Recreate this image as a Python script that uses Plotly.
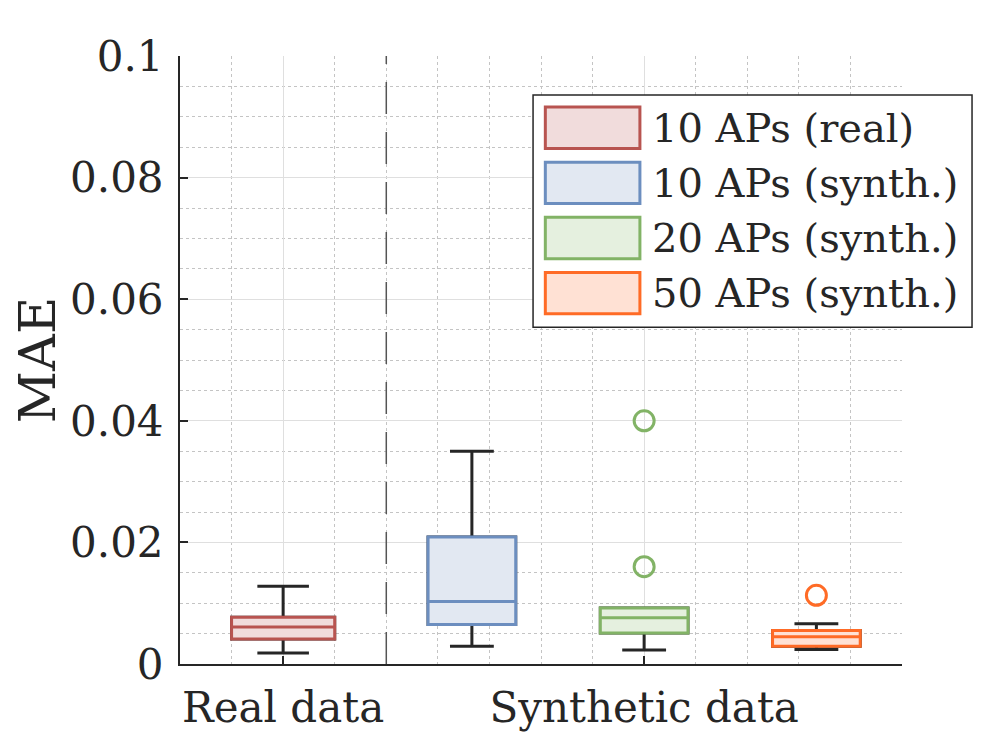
import plotly.graph_objects as go

# ---- data ----
names = ["10 APs (real)", "10 APs (synth.)", "20 APs (synth.)", "50 APs (synth.)"]
positions = [1.0, 2.83, 4.5, 6.17]
box_widths = [1.0, 0.85, 0.85, 0.85]
lower_fence = [0.0018, 0.0029, 0.0023, 0.0024]
q1 = [0.0041, 0.0065, 0.0051, 0.0029]
median = [0.0061, 0.0103, 0.0076, 0.0045]
q3 = [0.0077, 0.0209, 0.0092, 0.0055]
upper_fence = [0.0128, 0.0350, 0.0092, 0.0066]
outlier_group = [2, 2, 3]
outlier_values = [0.0400, 0.0160, 0.0113]

edge_colors = ["#B85450", "#6C8EBF", "#82B366", "#FF6B26"]
fill_colors = ["#F1DCDC", "#E2E8F2", "#E5F0DF", "#FFE1D4"]
whisker_color = "#262626"

xtick_vals = [1.0, 4.5]
xtick_text = ["Real data", "Synthetic data"]
separator_x = 2.0
x_range = [0, 7]
y_range = [0, 0.1]

FONT = "DejaVu Serif"
TXT = "#262626"

fig = go.Figure()

# black whiskers (box underneath, covered by the coloured box)
for i in range(len(names)):
    fig.add_trace(go.Box(
        x=[positions[i]], q1=[q1[i]], median=[median[i]], q3=[q3[i]],
        lowerfence=[lower_fence[i]], upperfence=[upper_fence[i]],
        width=box_widths[i], whiskerwidth=0.5,
        line=dict(color=whisker_color, width=3), fillcolor="rgba(0,0,0,0)",
        showlegend=False, hoverinfo="skip", boxpoints=False,
    ))

# coloured boxes
for i in range(len(names)):
    fig.add_trace(go.Box(
        x=[positions[i]], q1=[q1[i]], median=[median[i]], q3=[q3[i]],
        lowerfence=[q1[i]], upperfence=[q3[i]],
        width=box_widths[i], whiskerwidth=0,
        line=dict(color=edge_colors[i], width=3), fillcolor=fill_colors[i],
        name=names[i], showlegend=False, boxpoints=False,
    ))

# outliers
for g, v in zip(outlier_group, outlier_values):
    fig.add_trace(go.Scatter(
        x=[positions[g]], y=[v], mode="markers",
        marker=dict(symbol="circle-open", size=20, color=edge_colors[g],
                    line=dict(width=3, color=edge_colors[g])),
        showlegend=False, hoverinfo="skip",
    ))

# dashed separator
fig.add_trace(go.Scatter(
    x=[separator_x, separator_x], y=y_range, mode="lines",
    line=dict(color="#555555", width=1.5, dash="32px,18px"),
    showlegend=False, hoverinfo="skip",
))

# ---- legend (MATLAB-style, large swatches), in paper coordinates ----
LEG_X0, LEG_X1, LEG_Y0, LEG_Y1 = 0.489, 1.097, 0.554, 0.936
SW_X0, SW_X1 = 0.506, 0.637
TXT_X = 0.651
ROW_TOP = 0.882      # centre of first row
ROW_STEP = 0.0907    # row spacing
SW_H = 0.068         # swatch height

fig.add_shape(type="rect", xref="paper", yref="paper",
              x0=LEG_X0, x1=LEG_X1, y0=LEG_Y0, y1=LEG_Y1,
              fillcolor="white", line=dict(color="#262626", width=1.5), layer="above")
for i, nm in enumerate(names):
    yc = ROW_TOP - i * ROW_STEP
    fig.add_shape(type="rect", xref="paper", yref="paper",
                  x0=SW_X0, x1=SW_X1, y0=yc - SW_H / 2, y1=yc + SW_H / 2,
                  fillcolor=fill_colors[i], line=dict(color=edge_colors[i], width=3),
                  layer="above")
    fig.add_annotation(text=nm, xref="paper", yref="paper", x=TXT_X, y=yc,
                       xanchor="left", yanchor="middle", showarrow=False,
                       font=dict(family=FONT, size=40, color=TXT))

fig.update_layout(
    width=996, height=747,
    margin=dict(l=172, r=102, t=48, b=91, autoexpand=False),
    paper_bgcolor="white", plot_bgcolor="white",
    font=dict(family=FONT, color=TXT, size=42),
    boxmode="overlay",
    showlegend=False,
    xaxis=dict(
        range=x_range, tickmode="array", tickvals=xtick_vals, ticktext=xtick_text,
        showgrid=True, gridcolor="#DFDFDF", gridwidth=1.2,
        showline=True, linecolor=TXT, linewidth=2,
        ticks="inside", ticklen=8, tickwidth=1.5, tickcolor=TXT,
        tickfont=dict(family=FONT, size=42, color=TXT),
        ticklabelstandoff=6,
        minor=dict(tickmode="linear", tick0=0, dtick=0.5, showgrid=True,
                   gridcolor="#C4C4C4", griddash="dot", gridwidth=1.2),
        zeroline=False, fixedrange=True, automargin=False,
    ),
    yaxis=dict(
        range=y_range, tickmode="linear", tick0=0, dtick=0.02,
        showgrid=True, gridcolor="#DFDFDF", gridwidth=1.2,
        showline=True, linecolor=TXT, linewidth=2,
        ticks="inside", ticklen=8, tickwidth=1.5, tickcolor=TXT,
        tickfont=dict(family=FONT, size=42, color=TXT),
        ticklabelstandoff=6,
        minor=dict(tickmode="linear", tick0=0, dtick=0.005, showgrid=True,
                   gridcolor="#C4C4C4", griddash="dot", gridwidth=1.2),
        title=dict(text="MAE", font=dict(family=FONT, size=51, color=TXT), standoff=25),
        zeroline=False, fixedrange=True, automargin=False,
    ),
)

fig.write_html("out.html")
